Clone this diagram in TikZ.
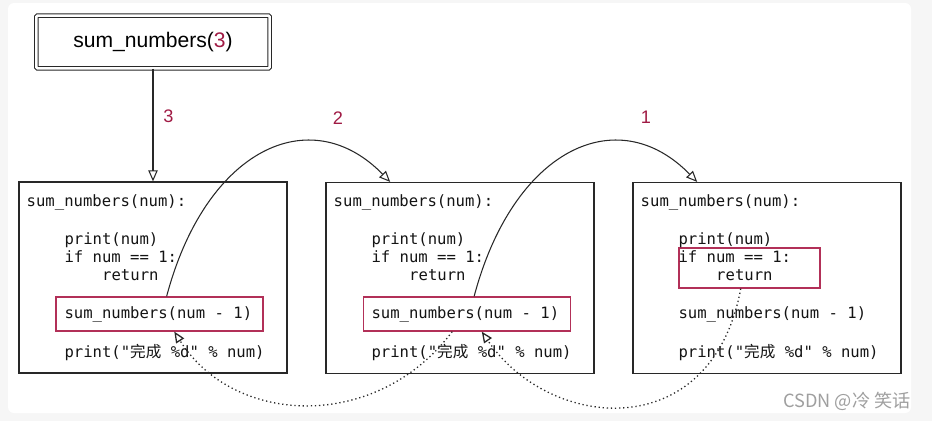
\documentclass[tikz,border=0pt]{standalone}
\usepackage{fontspec}
\setmainfont{Liberation Sans}
\setmonofont{DejaVu Sans Mono}
\newfontfamily\cjk{Noto Sans CJK SC}
\usetikzlibrary{arrows.meta}
\definecolor{berry}{RGB}{160,26,68}
\definecolor{hibox}{RGB}{178,48,88}
\definecolor{ink}{RGB}{40,40,40}

\begin{document}
\begin{tikzpicture}[x=0.03cm, y=-0.03cm,
  frame/.style={draw=ink, line width=1pt, minimum width=8.04cm, minimum height=5.73cm},
  hilite/.style={draw=hibox, line width=1.1pt},
  code/.style={anchor=base west, inner sep=0pt, text=black!92, font=\ttfamily\fontsize{13.3}{16}\selectfont},
  num/.style={text=berry, font=\fontsize{15.5}{18}\selectfont},
  flow/.style={draw=ink, line width=0.9pt, -{Triangle[open, length=3.3mm, width=2.8mm]}},
  back/.style={flow, line width=1.1pt, dash pattern=on 1.1pt off 2.4pt}
]
\useasboundingbox (0,0) rectangle (932,421);
\fill[gray!7] (0,0) rectangle (932,421);
\fill[white, rounded corners=0.18cm] (8,3) rectangle (911,413);

% call at the top
\node[draw=ink, double, double distance=2.1pt, line width=0.9pt, rounded corners=1pt,
  minimum width=7cm, minimum height=1.58cm, font=\fontsize{18}{22}\selectfont]
  (call) at (153,42) {sum\_numbers({\color{berry}3})};

% the three frames
\node[frame] (f1) at (153,277.5) {};
\node[frame] (f2) at (460,278) {};
\node[frame] (f3) at (767,278) {};

\node[hilite, minimum width=6.21cm, minimum height=1.02cm] (k1) at (159.5,314) {};
\node[hilite, minimum width=6.21cm, minimum height=1.02cm] (k2) at (467,314) {};
\node[hilite, minimum width=4.23cm, minimum height=1.2cm] (k3) at (749.5,268) {};

\node[code] (def1) at (26.5,206) {sum\_numbers(num):};
\node[code] (pr1) at (64.3,244) {print(num)};
\node[code] (if1) at (64.3,262) {if num == 1:};
\node[code] (ret1) at (102,280) {return};
\node[code] (rec1) at (64.3,318) {sum\_numbers(num - 1)};
\node[code] (done1) at (64.3,357) {print("{\cjk 完成} \%d" \% num)};

\node[code] (def2) at (333.5,206) {sum\_numbers(num):};
\node[code] (pr2) at (371.3,244) {print(num)};
\node[code] (if2) at (371.3,262) {if num == 1:};
\node[code] (ret2) at (409,280) {return};
\node[code] (rec2) at (371.3,318) {sum\_numbers(num - 1)};
\node[code] (done2) at (371.3,357) {print("{\cjk 完成} \%d" \% num)};

\node[code] (def3) at (640.5,206) {sum\_numbers(num):};
\node[code] (pr3) at (678.3,244) {print(num)};
\node[code] (if3) at (678.3,262) {if num == 1:};
\node[code] (ret3) at (716,280) {return};
\node[code] (rec3) at (678.3,318) {sum\_numbers(num - 1)};
\node[code] (done3) at (678.3,357) {print("{\cjk 完成} \%d" \% num)};

% argument values
\node[num] (n3) at (168.5,116.5) {3};
\node[num] (n2) at (338,118) {2};
\node[num] (n1) at (646,117) {1};

\draw[flow] (call) -- (f1);
\draw[flow] (k1.68) .. controls +(39,-147) and +(-80,-82) .. (f2.126);
\draw[flow] (k2.68) .. controls +(39,-147) and +(-80,-82) .. (f3.126);
\draw[back] (k3.247) .. controls +(-29,157) and +(68,100) .. (k2.-50);
\draw[back] (k2.-130) .. controls +(-75,100) and +(60,95) .. (k1.-50);

\node[text=gray!75, font=\cjk\fontsize{15.5}{18}\selectfont] (mark) at (847,401) {CSDN @冷 笑话};
\end{tikzpicture}
\end{document}
